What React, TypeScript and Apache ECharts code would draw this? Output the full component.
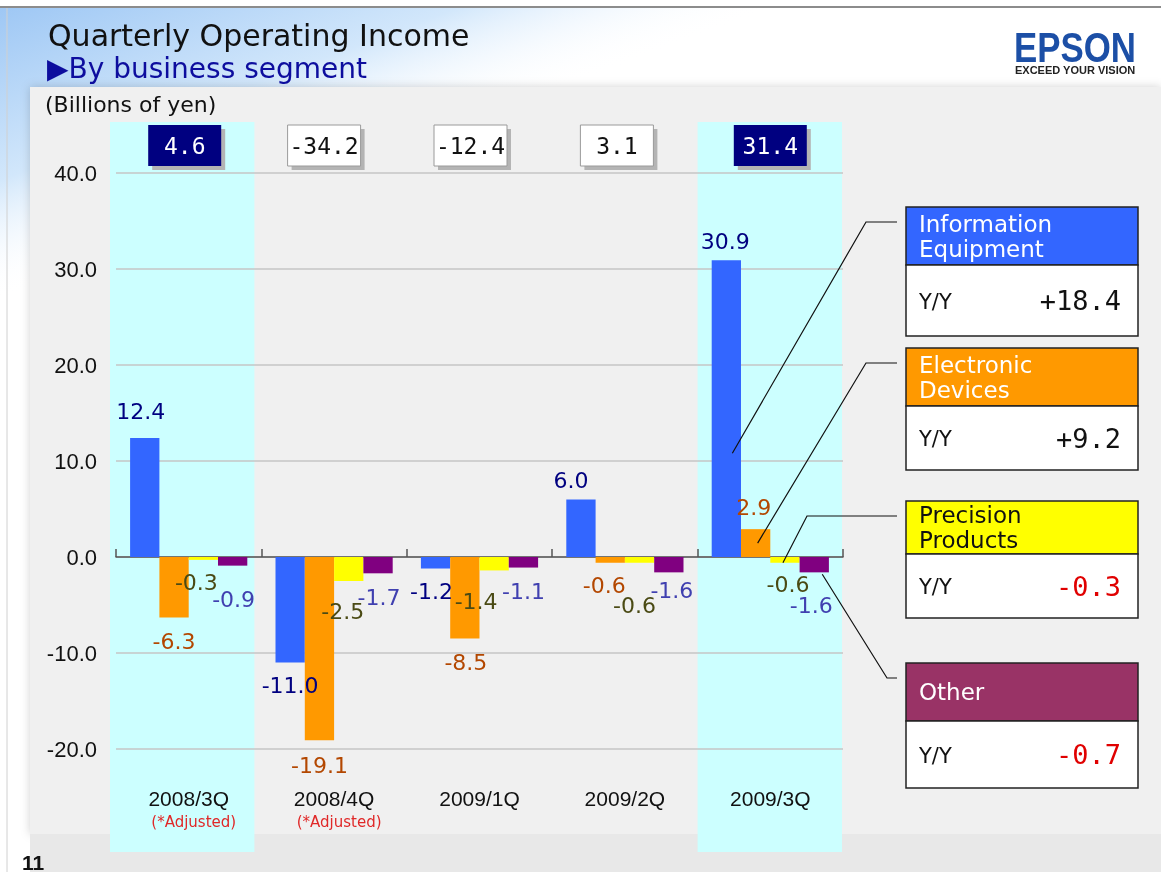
import React, { useEffect, useRef } from "react";
import * as echarts from "echarts";

// ---------- data ----------
const categories = ["2008/3Q", "2008/4Q", "2009/1Q", "2009/2Q", "2009/3Q"];
const adjusted = [true, true, false, false, false];
const infoEquipment = [12.4, -11.0, -1.2, 6.0, 30.9];
const electronicDevices = [-6.3, -19.1, -8.5, -0.6, 2.9];
const precisionProducts = [-0.3, -2.5, -1.4, -0.6, -0.6];
const otherSegment = [-0.9, -1.7, -1.1, -1.6, -1.6];
const totals = [4.6, -34.2, -12.4, 3.1, 31.4];
const highlighted = [true, false, false, false, true];
const segmentNames = ["Information\nEquipment", "Electronic\nDevices", "Precision\nProducts", "Other"];
const yoyValues = [18.4, 9.2, -0.3, -0.7];
const yMin = -20;
const yMax = 40;
const yInterval = 10;

// ---------- styles / layout ----------
const W = 1161;
const H = 872;
const barColors = ["#3366ff", "#ff9900", "#ffff00", "#800080"];
const labelColors = ["#000080", "#b34700", "#4a4a14", "#4040b0"];
const headerColors = ["#3366ff", "#ff9900", "#ffff00", "#993366"];
const headerTextColors = ["#ffffff", "#ffffff", "#111111", "#ffffff"];
const BAR_W = 29.3;
const labelNudge = [
  [[-4, -3], [0, 0], [-4, 0], [-10, 4], [-1, 4]],
  [[0, 1], [0, 2], [1, 1], [-6, 0], [-2, 1]],
  [[-7, 0], [-6, 7], [-18, 8], [-5, 20], [3, -1]],
  [[1, 11], [1, 1], [0, 1], [3, -5], [-3, 10]],
];
const totalsShift = [-4, -10, -9, -8, 0];
const bandShift = [-6, 0, 0, 0, 0];
const legendLeft = 906;
const legendWidth = 232;
const legendTops = [207, 348, 501, 663];
const headerHeights = [58, 58, 53, 58];
const bodyHeights = [71, 64, 64, 67];
const leaderKinkX = [866, 866, 807, 887];
const leaderFraction = [0.35, 0.5, 1, 1.12];
const leaderDx = [6, 2, -2, 8];

export default function App() {
  const ref = useRef<HTMLDivElement>(null);

  useEffect(() => {
    const chart = echarts.init(ref.current as HTMLDivElement, null, { renderer: "svg" });
    const seriesData = [infoEquipment, electronicDevices, precisionProducts, otherSegment];
    const seriesNames = ["Information Equipment", "Electronic Devices", "Precision Products", "Other"];

    const series = seriesData.map((arr, k) => ({
      name: seriesNames[k],
      type: "bar",
      xAxisIndex: 0,
      barWidth: BAR_W,
      barGap: "0%",
      itemStyle: { color: barColors[k] },
      label: {
        show: true,
        distance: 12,
        color: labelColors[k],
        fontFamily: "DejaVu Sans",
        fontSize: 22,
        formatter: (p: any) => Number(p.value).toFixed(1),
      },
      data: arr.map((v, i) => ({
        value: v,
        label: { position: v >= 0 ? "top" : "bottom", offset: labelNudge[k][i] },
      })),
      z: 3,
    }));

    chart.setOption({
      animation: false,
      backgroundColor: "transparent",
      grid: { left: 116, right: W - 843, top: 173, bottom: H - 749, containLabel: false },
      xAxis: [
        {
          type: "category",
          data: categories,
          position: "bottom",
          axisLine: { show: true, onZero: true, lineStyle: { color: "#555555", width: 1.5 } },
          axisTick: { show: true, inside: true, length: 8, lineStyle: { color: "#555555", width: 1.5 } },
          axisLabel: { show: false },
          splitLine: { show: false },
        },
        {
          type: "category",
          data: categories,
          position: "bottom",
          axisLine: { show: false, onZero: false },
          axisTick: { show: false },
          splitLine: { show: false },
          axisLabel: {
            show: true,
            interval: 0,
            margin: 37,
            fontFamily: "Liberation Sans",
            fontSize: 21,
            color: "#111111",
            lineHeight: 24,
            formatter: (value: string, index: number) =>
              adjusted[index] ? `${value}\n{adj|(*Adjusted)}` : value,
            rich: {
              adj: {
                fontFamily: "DejaVu Sans",
                fontSize: 15,
                color: "#e02828",
                lineHeight: 24,
                padding: [0, 0, 0, 10],
              },
            },
          },
        },
      ],
      yAxis: {
        type: "value",
        min: yMin,
        max: yMax,
        interval: yInterval,
        axisLine: { show: false },
        axisTick: { show: false },
        axisLabel: {
          margin: 19,
          fontFamily: "Liberation Sans",
          fontSize: 22,
          color: "#111111",
          formatter: (v: number) => v.toFixed(1),
        },
        splitLine: { show: true, lineStyle: { color: "#c6c6c6", width: 1.5 } },
      },
      series,
    });

    const px = (i: number) => chart.convertToPixel({ xAxisIndex: 0 }, categories[i]) as number;
    const py = (v: number) => chart.convertToPixel({ yAxisIndex: 0 }, v) as number;
    const catW = (px(1) - px(0));

    const els: any[] = [];
    // page background
    els.push({ type: "rect", silent: true, z: -50, shape: { x: 0, y: 0, width: W, height: H }, style: { fill: "#ffffff" } });
    els.push({
      type: "rect", silent: true, z: -49,
      shape: { x: 0, y: 8, width: W, height: 330 },
      style: {
        fill: new echarts.graphic.LinearGradient(0, 0, 99, 263, [
          { offset: 0, color: "#9cc6f4" },
          { offset: 0.6, color: "#d2e7fb" },
          { offset: 1, color: "rgba(255,255,255,0)" },
        ], true),
      },
    });
    // top border & left edge
    els.push({ type: "line", silent: true, z: -40, shape: { x1: 0, y1: 7, x2: W, y2: 7 }, style: { stroke: "#666666", lineWidth: 1.5 } });
    els.push({ type: "line", silent: true, z: -40, shape: { x1: 7, y1: 8, x2: 7, y2: H }, style: { stroke: "#d0d0d0", lineWidth: 1 } });
    // grey panel
    els.push({
      type: "rect", silent: true, z: -45,
      shape: { x: 30, y: 87, width: W - 30, height: 747 },
      style: { fill: "#f0f0f0", shadowBlur: 10, shadowColor: "rgba(0,0,0,0.18)" },
    });
    els.push({ type: "rect", silent: true, z: -44, shape: { x: 30, y: 834, width: W - 30, height: H - 834 }, style: { fill: "#e8e8e8" } });

    // highlighted bands
    highlighted.forEach((h, i) => {
      if (!h) return;
      els.push({
        type: "rect", silent: true, z: -30,
        shape: { x: px(i) - catW / 2 + bandShift[i], y: 122, width: catW - 1, height: 730 },
        style: { fill: "#ccffff" },
      });
    });

    // titles
    els.push({ type: "text", silent: true, z: 5, x: 48, y: 35, style: { text: "Quarterly Operating Income", fontFamily: "DejaVu Sans", fontSize: 30, fill: "#111111", textVerticalAlign: "middle" } });
    els.push({ type: "text", silent: true, z: 5, x: 47, y: 68, style: { text: "\u25B6By business segment", fontFamily: "DejaVu Sans", fontSize: 28, fill: "#0d0d9e", textVerticalAlign: "middle" } });
    els.push({ type: "text", silent: true, z: 5, x: 45, y: 104, style: { text: "(Billions of yen)", fontFamily: "DejaVu Sans", fontSize: 22, fill: "#111111", textVerticalAlign: "middle" } });
    els.push({ type: "text", silent: true, z: 5, x: 22, y: 862, style: { text: "11", fontFamily: "Liberation Sans", fontWeight: "bold", fontSize: 21, fill: "#111111", textVerticalAlign: "middle" } });

    // logo
    els.push({ type: "text", silent: true, z: 5, x: 1014, y: 47, scaleX: 0.83, style: { text: "EPSON", fontFamily: "Liberation Sans", fontWeight: "bold", fontSize: 42, fill: "#1c4fa6", textVerticalAlign: "middle" } });
    els.push({ type: "text", silent: true, z: 5, x: 1015, y: 70, scaleX: 1.0, style: { text: "EXCEED YOUR VISION", fontFamily: "Liberation Sans", fontWeight: "bold", fontSize: 11, fill: "#222222", textVerticalAlign: "middle" } });

    // totals boxes
    totals.forEach((t, i) => {
      const cx = px(i) + totalsShift[i];
      const bw = 73, bh = 41, by = 125;
      els.push({ type: "rect", silent: true, z: 8, shape: { x: cx - bw / 2 + 4, y: by + 4, width: bw, height: bh }, style: { fill: "#b4b4b4" } });
      els.push({
        type: "rect", silent: true, z: 9,
        shape: { x: cx - bw / 2, y: by, width: bw, height: bh },
        style: highlighted[i] ? { fill: "#000080" } : { fill: "#ffffff", stroke: "#9a9a9a", lineWidth: 1 },
      });
      els.push({
        type: "text", silent: true, z: 10, x: cx, y: by + bh / 2,
        style: {
          text: t.toFixed(1), fontFamily: "DejaVu Sans Mono", fontSize: 23,
          fill: highlighted[i] ? "#ffffff" : "#111111", textAlign: "center", textVerticalAlign: "middle",
        },
      });
    });

    // legend boxes
    segmentNames.forEach((name, k) => {
      const top = legendTops[k];
      const hh = headerHeights[k];
      const bh = bodyHeights[k];
      els.push({ type: "rect", silent: true, z: 8, shape: { x: legendLeft, y: top, width: legendWidth, height: hh }, style: { fill: headerColors[k], stroke: "#222222", lineWidth: 1.5 } });
      els.push({ type: "rect", silent: true, z: 8, shape: { x: legendLeft, y: top + hh, width: legendWidth, height: bh }, style: { fill: "#ffffff", stroke: "#222222", lineWidth: 1.5 } });
      els.push({
        type: "text", silent: true, z: 9, x: legendLeft + 13, y: top + hh / 2,
        style: { text: name, fontFamily: "DejaVu Sans", fontSize: 23, lineHeight: 25, fill: headerTextColors[k], textVerticalAlign: "middle" },
      });
      const by = top + hh + bh / 2 + 1;
      els.push({ type: "text", silent: true, z: 9, x: legendLeft + 13, y: by, style: { text: "Y/Y", fontFamily: "DejaVu Sans", fontSize: 21, fill: "#111111", textVerticalAlign: "middle" } });
      const v = yoyValues[k];
      els.push({
        type: "text", silent: true, z: 9, x: legendLeft + 215, y: by - 1,
        style: {
          text: (v > 0 ? "+" : "") + v.toFixed(1), fontFamily: "DejaVu Sans Mono", fontSize: 27,
          fill: v < 0 ? "#e00000" : "#111111", textAlign: "right", textVerticalAlign: "middle",
        },
      });
      // leader line from the latest quarter's bar
      const last = categories.length - 1;
      const barCx = px(last) + (k - 1.5) * BAR_W + leaderDx[k];
      const barY = py(seriesData[k][last] * leaderFraction[k]);
      const ky = top + 15;
      els.push({
        type: "polyline", silent: true, z: 7,
        shape: { points: [[barCx, barY], [leaderKinkX[k], ky], [legendLeft - 9, ky]] },
        style: { stroke: "#111111", lineWidth: 1.2, fill: null },
      });
    });

    chart.setOption({ graphic: { elements: els } });

    return () => chart.dispose();
  }, []);

  return <div ref={ref} style={{ position: "fixed", left: 0, top: 0, width: W, height: H }} />;
}
